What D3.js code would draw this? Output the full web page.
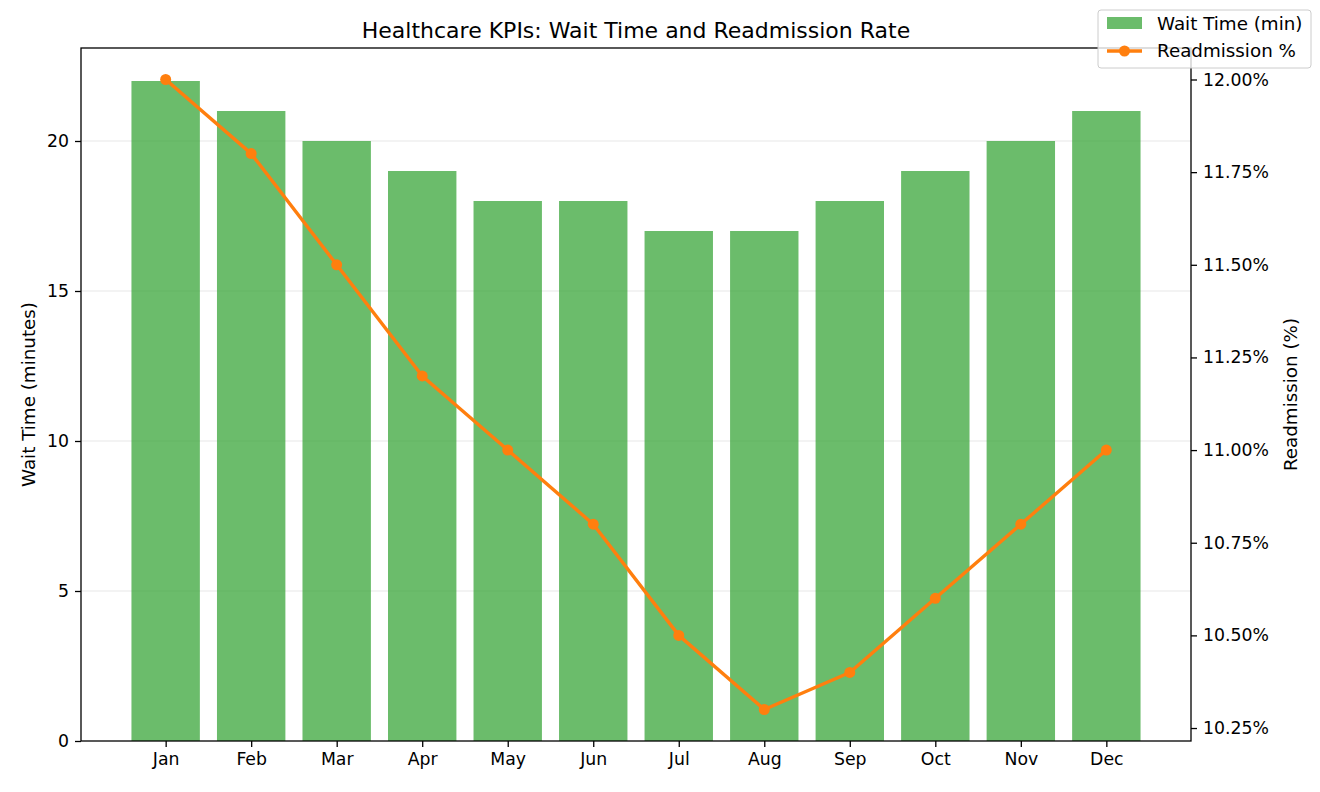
<!DOCTYPE html>
<html>
<head>
<meta charset="utf-8">
<script src="https://cdn.jsdelivr.net/npm/d3@7"></script>
<style>
  body { margin: 0; background: #fff; }
  svg { font-family: "DejaVu Sans", sans-serif; }
</style>
</head>
<body>
<svg id="chart" width="1320" height="792"></svg>
<script>
const months = ["Jan", "Feb", "Mar", "Apr", "May", "Jun", "Jul", "Aug", "Sep", "Oct", "Nov", "Dec"];
const waitTime = [22, 21, 20, 19, 18, 18, 17, 17, 18, 19, 20, 21];
const readmission = [12.0, 11.8, 11.5, 11.2, 11.0, 10.8, 10.5, 10.3, 10.4, 10.6, 10.8, 11.0];
const leftTicks = [0, 5, 10, 15, 20];
const rightTicks = [10.25, 10.5, 10.75, 11.0, 11.25, 11.5, 11.75, 12.0];

const margin = { left: 81, right: 1191, top: 48, bottom: 741 };
const svg = d3.select("#chart");

// index scale, with matplotlib-like padding round the bars
const x = d3.scaleLinear().domain([-0.99, 11.99]).range([margin.left, margin.right]);
const yLeft = d3.scaleLinear().domain([0, 23.1]).range([margin.bottom, margin.top]);
const yRight = d3.scaleLinear().domain([10.215, 12.085]).range([margin.bottom, margin.top]);
const barW = x(0.8) - x(0);

/** grid lines behind the bars */
svg.append("g")
  .selectAll("line")
  .data(leftTicks.filter(t => t > 0))
  .enter()
  .append("line")
  .attr("x1", margin.left)
  .attr("x2", margin.right)
  .attr("y1", d => yLeft(d))
  .attr("y2", d => yLeft(d))
  .attr("stroke", "#b0b0b0")
  .attr("stroke-opacity", 0.3)
  .attr("stroke-width", 1.2);

svg.append("g")
  .selectAll("rect")
  .data(waitTime)
  .enter()
  .append("rect")
  .attr("x", (d, i) => x(i) - barW / 2)
  .attr("width", barW)
  .attr("y", d => yLeft(d))
  .attr("height", d => yLeft(0) - yLeft(d))
  .attr("fill", "#2ca02c")
  .attr("fill-opacity", 0.7);

const line = d3.line()
  .x((d, i) => x(i))
  .y(d => yRight(d));

svg.append("path")
  .datum(readmission)
  .attr("d", line)
  .attr("fill", "none")
  .attr("stroke", "#ff7f0e")
  .attr("stroke-width", 3.4)
  .attr("stroke-linejoin", "round");

svg.append("g")
  .selectAll("circle")
  .data(readmission)
  .enter()
  .append("circle")
  .attr("cx", (d, i) => x(i))
  .attr("cy", d => yRight(d))
  .attr("r", 5.5)
  .attr("fill", "#ff7f0e");

/** frame */
svg.append("rect")
  .attr("x", margin.left)
  .attr("y", margin.top)
  .attr("width", margin.right - margin.left)
  .attr("height", margin.bottom - margin.top)
  .attr("fill", "none")
  .attr("stroke", "#000")
  .attr("stroke-width", 1.3);

/** axes */
function styleAxis(g) {
  g.select(".domain").remove();
  g.attr("font-family", "DejaVu Sans, sans-serif").attr("font-size", 17.3);
  g.selectAll(".tick line").attr("stroke", "#000").attr("stroke-width", 1.3);
  g.selectAll(".tick text").attr("fill", "#000");
}

const xAxis = d3.axisBottom(x)
  .tickValues(d3.range(months.length))
  .tickFormat(i => months[i])
  .tickSize(6)
  .tickPadding(6);
svg.append("g")
  .attr("transform", `translate(0,${margin.bottom})`)
  .call(xAxis)
  .call(styleAxis);

svg.append("g")
  .attr("transform", `translate(${margin.left},0)`)
  .call(d3.axisLeft(yLeft).tickValues(leftTicks).tickSize(6).tickPadding(6))
  .call(styleAxis);

svg.append("g")
  .attr("transform", `translate(${margin.right},0)`)
  .call(d3.axisRight(yRight).tickValues(rightTicks).tickFormat(d => d.toFixed(2) + "%").tickSize(6).tickPadding(6))
  .call(styleAxis);

/** labels */
svg.append("text")
  .attr("x", (margin.left + margin.right) / 2)
  .attr("y", 38)
  .attr("text-anchor", "middle")
  .attr("font-size", 22)
  .text("Healthcare KPIs: Wait Time and Readmission Rate");

svg.append("text")
  .attr("transform", `translate(35,${(margin.top + margin.bottom) / 2}) rotate(-90)`)
  .attr("text-anchor", "middle")
  .attr("font-size", 18.3)
  .text("Wait Time (minutes)");

svg.append("text")
  .attr("transform", `translate(1297,${(margin.top + margin.bottom) / 2}) rotate(-90)`)
  .attr("text-anchor", "middle")
  .attr("font-size", 18.3)
  .text("Readmission (%)");

/** legend */
const legend = svg.append("g").attr("transform", "translate(1098,10)");
legend.append("rect")
  .attr("width", 213)
  .attr("height", 58)
  .attr("rx", 3)
  .attr("fill", "#fff")
  .attr("fill-opacity", 0.8)
  .attr("stroke", "#ccc");
legend.append("rect")
  .attr("x", 9).attr("y", 7)
  .attr("width", 35).attr("height", 12)
  .attr("fill", "#2ca02c").attr("fill-opacity", 0.7);
legend.append("line")
  .attr("x1", 9).attr("x2", 44)
  .attr("y1", 41).attr("y2", 41)
  .attr("stroke", "#ff7f0e").attr("stroke-width", 3.4);
legend.append("circle")
  .attr("cx", 26.5).attr("cy", 41).attr("r", 5.5).attr("fill", "#ff7f0e");
legend.append("text").attr("x", 59).attr("y", 20).attr("font-size", 18.3).text("Wait Time (min)");
legend.append("text").attr("x", 59).attr("y", 47).attr("font-size", 18.3).text("Readmission %");
</script>
</body>
</html>
